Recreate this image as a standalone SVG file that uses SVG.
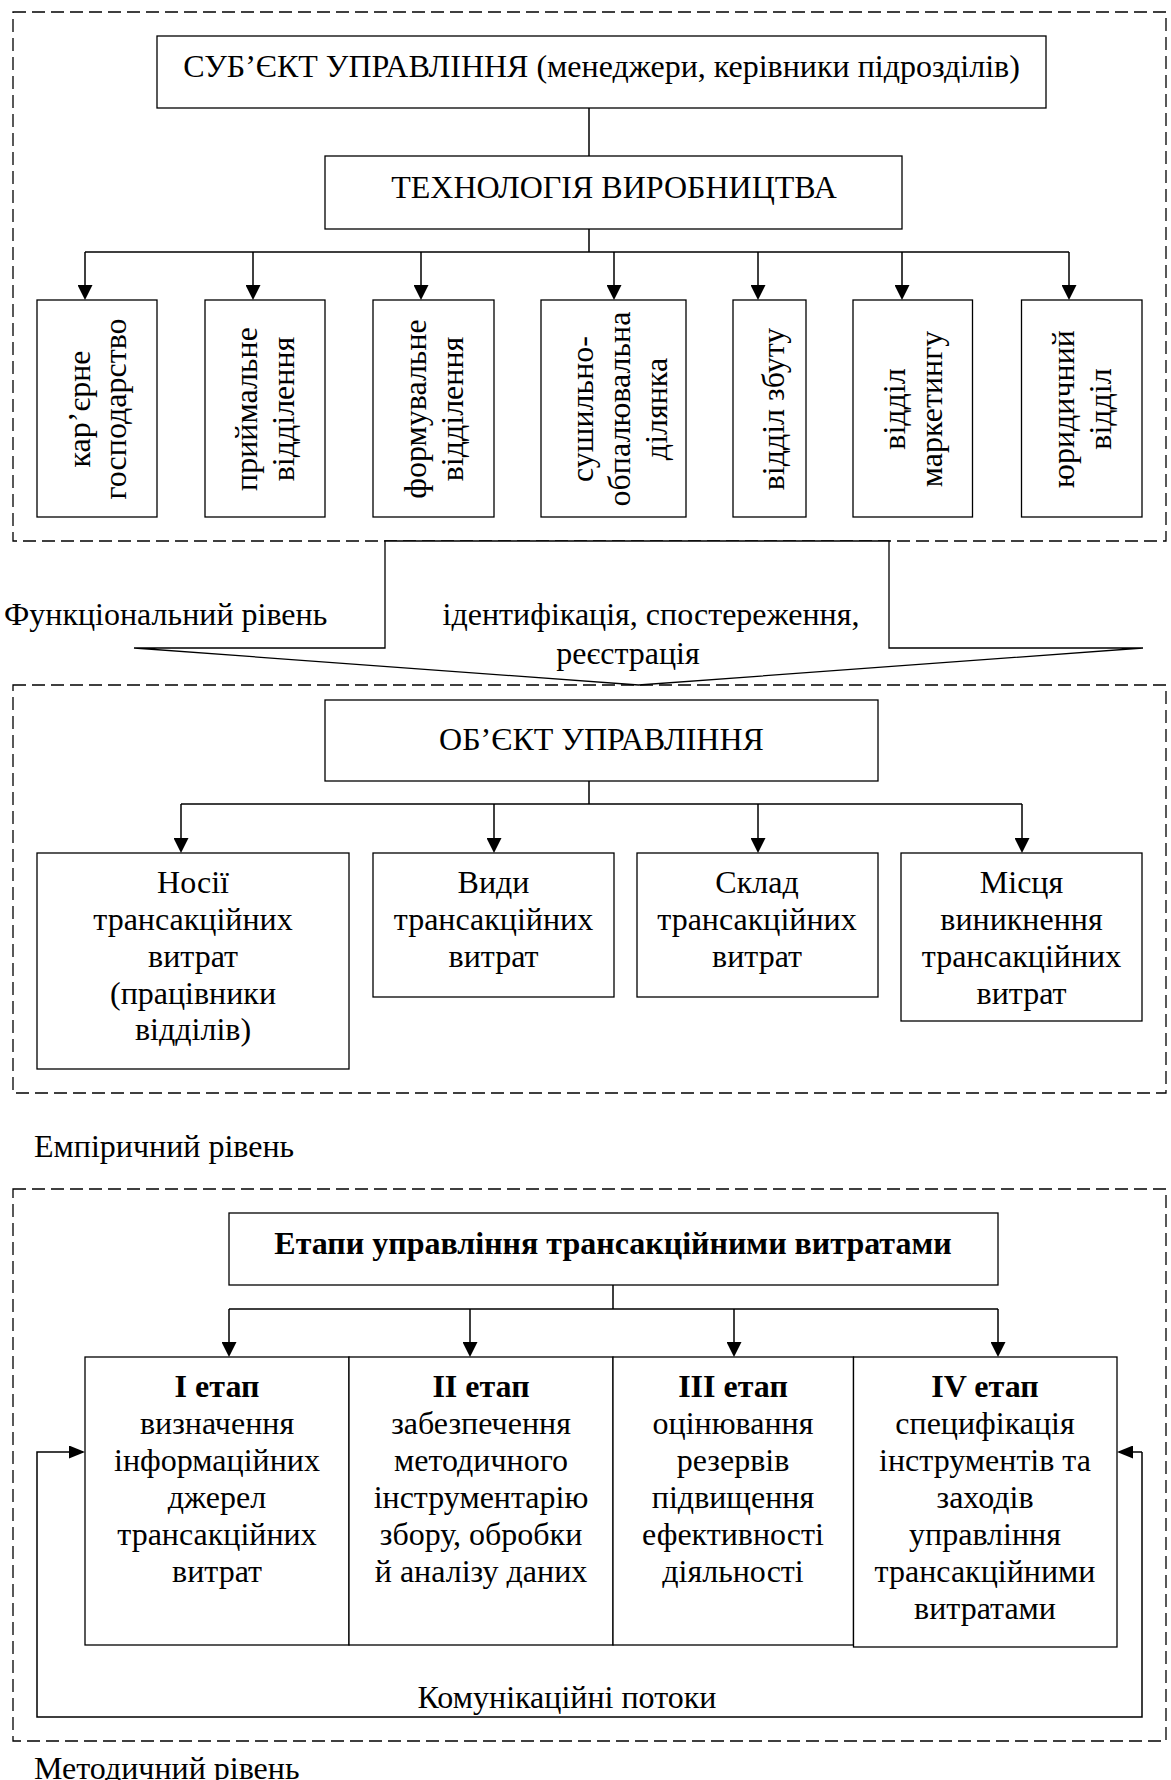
<svg xmlns="http://www.w3.org/2000/svg" width="1171" height="1780" viewBox="0 0 1171 1780">
  <defs>
    <style>
      text { font-family: "Liberation Serif", "Times New Roman", serif; font-size: 32px; fill: #000; }
      .c { text-anchor: middle; }
      .b { font-weight: bold; }
      .box { fill: #fff; stroke: #000; stroke-width: 1.3; }
      .zone { fill: none; stroke: #000; stroke-width: 1.3; stroke-dasharray: 13 6; }
      .ln { fill: none; stroke: #000; stroke-width: 1.5; }
    </style>
    <marker id="ah" viewBox="0 0 15 15" refX="13" refY="7.5" markerWidth="15" markerHeight="15" markerUnits="userSpaceOnUse" orient="auto">
      <path d="M0,0 L15,7.5 L0,15 z" fill="#000"/>
    </marker>
    <marker id="ahs" viewBox="0 0 16 13" refX="14" refY="6.5" markerWidth="16" markerHeight="13" markerUnits="userSpaceOnUse" orient="auto">
      <path d="M0,0 L16,6.5 L0,13 z" fill="#000"/>
    </marker>
  </defs>

  <rect width="1171" height="1780" fill="#fff"/>

  <!-- level frames -->
  <g id="zones">
    <rect class="zone" x="13" y="12" width="1153" height="529"/>
    <rect class="zone" x="13" y="685" width="1153" height="408"/>
    <rect class="zone" x="13" y="1189" width="1153" height="552"/>
  </g>

  <!-- connectors -->
  <g id="connectors">
    <!-- subject -> technology -> departments -->
    <path class="ln" d="M589,108 V156"/>
    <path class="ln" d="M589,229 V252 M85,252 H1069"/>
    <path class="ln" d="M85,252 V298" marker-end="url(#ah)"/>
    <path class="ln" d="M253,252 V298" marker-end="url(#ah)"/>
    <path class="ln" d="M421,252 V298" marker-end="url(#ah)"/>
    <path class="ln" d="M614,252 V298" marker-end="url(#ah)"/>
    <path class="ln" d="M758,252 V298" marker-end="url(#ah)"/>
    <path class="ln" d="M902,252 V298" marker-end="url(#ah)"/>
    <path class="ln" d="M1069,252 V298" marker-end="url(#ah)"/>

    <!-- object -> cost groups -->
    <path class="ln" d="M589,781 V804 M181,804 H1022"/>
    <path class="ln" d="M181,804 V851" marker-end="url(#ah)"/>
    <path class="ln" d="M494,804 V851" marker-end="url(#ah)"/>
    <path class="ln" d="M758,804 V851" marker-end="url(#ah)"/>
    <path class="ln" d="M1022,804 V851" marker-end="url(#ah)"/>

    <!-- stages header -> stages -->
    <path class="ln" d="M613,1285 V1309 M229,1309 H998"/>
    <path class="ln" d="M229,1309 V1355" marker-end="url(#ah)"/>
    <path class="ln" d="M470,1309 V1355" marker-end="url(#ah)"/>
    <path class="ln" d="M734,1309 V1355" marker-end="url(#ah)"/>
    <path class="ln" d="M998,1309 V1355" marker-end="url(#ah)"/>

    <!-- communication loop -->
    <path class="ln" d="M1142,1452 V1717 H37 V1452 H83" marker-end="url(#ahs)"/>
    <path class="ln" d="M1142,1452 H1119" marker-end="url(#ahs)"/>
  </g>

  <!-- functional level arrow -->
  <g id="flow-arrow">
    <polygon class="box" points="385,541 889,541 889,648 1143,648 638.5,685 134,648 385,648"/>
    <text class="c" x="651" y="625">ідентифікація, спостереження,</text>
    <text class="c" x="628" y="664">реєстрація</text>
  </g>

  <g id="label-functional">
    <text x="4" y="625">Функціональний рівень</text>
  </g>
  <g id="label-empirical">
    <text x="34" y="1157">Емпіричний рівень</text>
  </g>
  <g id="label-methodical">
    <text x="34" y="1779">Методичний рівень</text>
  </g>

  <!-- subject of management -->
  <g id="subject">
    <rect class="box" x="157" y="36" width="889" height="72"/>
    <text class="c" x="601.5" y="77">СУБ’ЄКТ УПРАВЛІННЯ (менеджери, керівники підрозділів)</text>
  </g>

  <g id="technology">
    <rect class="box" x="325" y="156" width="577" height="73"/>
    <text class="c" x="614" y="198">ТЕХНОЛОГІЯ ВИРОБНИЦТВА</text>
  </g>

  <!-- departments (vertical captions) -->
  <g id="dept-quarry">
    <rect class="box" x="37" y="300" width="120" height="217"/>
    <text class="c" transform="translate(89.5 409) rotate(-90)">кар’єрне</text>
    <text class="c" transform="translate(126.3 409) rotate(-90)">господарство</text>
  </g>
  <g id="dept-receiving">
    <rect class="box" x="205" y="300" width="120" height="217"/>
    <text class="c" transform="translate(257 409) rotate(-90)">приймальне</text>
    <text class="c" transform="translate(294 409) rotate(-90)">відділення</text>
  </g>
  <g id="dept-forming">
    <rect class="box" x="373" y="300" width="121" height="217"/>
    <text class="c" transform="translate(425.7 409) rotate(-90)">формувальне</text>
    <text class="c" transform="translate(462.5 409) rotate(-90)">відділення</text>
  </g>
  <g id="dept-drying">
    <rect class="box" x="541" y="300" width="145" height="217"/>
    <text class="c" transform="translate(593 409) rotate(-90)">сушильно-</text>
    <text class="c" transform="translate(630 409) rotate(-90)">обпалювальна</text>
    <text class="c" transform="translate(667 409) rotate(-90)">ділянка</text>
  </g>
  <g id="dept-sales">
    <rect class="box" x="733" y="300" width="73" height="217"/>
    <text class="c" transform="translate(784 409) rotate(-90)">відділ збуту</text>
  </g>
  <g id="dept-marketing">
    <rect class="box" x="853" y="300" width="119.5" height="217"/>
    <text class="c" transform="translate(905 409) rotate(-90)">відділ</text>
    <text class="c" transform="translate(942 409) rotate(-90)">маркетингу</text>
  </g>
  <g id="dept-legal">
    <rect class="box" x="1021.5" y="300" width="120.5" height="217"/>
    <text class="c" transform="translate(1074 409) rotate(-90)">юридичний</text>
    <text class="c" transform="translate(1111 409) rotate(-90)">відділ</text>
  </g>

  <!-- object of management -->
  <g id="object">
    <rect class="box" x="325" y="700" width="553" height="81"/>
    <text class="c" x="601.5" y="750">ОБ’ЄКТ УПРАВЛІННЯ</text>
  </g>

  <g id="cost-carriers">
    <rect class="box" x="37" y="853" width="312" height="216"/>
    <text class="c" x="193" y="893">Носії</text>
    <text class="c" x="193" y="930">трансакційних</text>
    <text class="c" x="193" y="967">витрат</text>
    <text class="c" x="193" y="1003.5">(працівники</text>
    <text class="c" x="193" y="1040">відділів)</text>
  </g>
  <g id="cost-types">
    <rect class="box" x="373" y="853" width="241" height="144"/>
    <text class="c" x="493.5" y="893">Види</text>
    <text class="c" x="493.5" y="930">трансакційних</text>
    <text class="c" x="493.5" y="967">витрат</text>
  </g>
  <g id="cost-structure">
    <rect class="box" x="637" y="853" width="241" height="144"/>
    <text class="c" x="757" y="893">Склад</text>
    <text class="c" x="757" y="930">трансакційних</text>
    <text class="c" x="757" y="967">витрат</text>
  </g>
  <g id="cost-places">
    <rect class="box" x="901" y="853" width="241" height="168"/>
    <text class="c" x="1021.5" y="893">Місця</text>
    <text class="c" x="1021.5" y="930">виникнення</text>
    <text class="c" x="1021.5" y="967">трансакційних</text>
    <text class="c" x="1021.5" y="1003.5">витрат</text>
  </g>

  <!-- management stages -->
  <g id="stages-header">
    <rect class="box" x="229" y="1213" width="769" height="72"/>
    <text class="c b" x="613" y="1254">Етапи управління трансакційними витратами</text>
  </g>

  <g id="stage-1">
    <rect class="box" x="85" y="1357" width="264" height="288"/>
    <text class="c b" x="217" y="1397">I етап</text>
    <text class="c" x="217" y="1434">визначення</text>
    <text class="c" x="217" y="1471">інформаційних</text>
    <text class="c" x="217" y="1508">джерел</text>
    <text class="c" x="217" y="1545">трансакційних</text>
    <text class="c" x="217" y="1582">витрат</text>
  </g>
  <g id="stage-2">
    <rect class="box" x="349" y="1357" width="264" height="288"/>
    <text class="c b" x="481" y="1397">II етап</text>
    <text class="c" x="481" y="1434">забезпечення</text>
    <text class="c" x="481" y="1471">методичного</text>
    <text class="c" x="481" y="1508">інструментарію</text>
    <text class="c" x="481" y="1545">збору, обробки</text>
    <text class="c" x="481" y="1582">й аналізу даних</text>
  </g>
  <g id="stage-3">
    <rect class="box" x="613" y="1357" width="240.5" height="288"/>
    <text class="c b" x="733" y="1397">III етап</text>
    <text class="c" x="733" y="1434">оцінювання</text>
    <text class="c" x="733" y="1471">резервів</text>
    <text class="c" x="733" y="1508">підвищення</text>
    <text class="c" x="733" y="1545">ефективності</text>
    <text class="c" x="733" y="1582">діяльності</text>
  </g>
  <g id="stage-4">
    <rect class="box" x="853.5" y="1357" width="263.5" height="290"/>
    <text class="c b" x="985" y="1397">IV етап</text>
    <text class="c" x="985" y="1434">специфікація</text>
    <text class="c" x="985" y="1471">інструментів та</text>
    <text class="c" x="985" y="1508">заходів</text>
    <text class="c" x="985" y="1545">управління</text>
    <text class="c" x="985" y="1582">трансакційними</text>
    <text class="c" x="985" y="1619">витратами</text>
  </g>

  <g id="label-communication">
    <text class="c" x="567" y="1708">Комунікаційні потоки</text>
  </g>
</svg>
